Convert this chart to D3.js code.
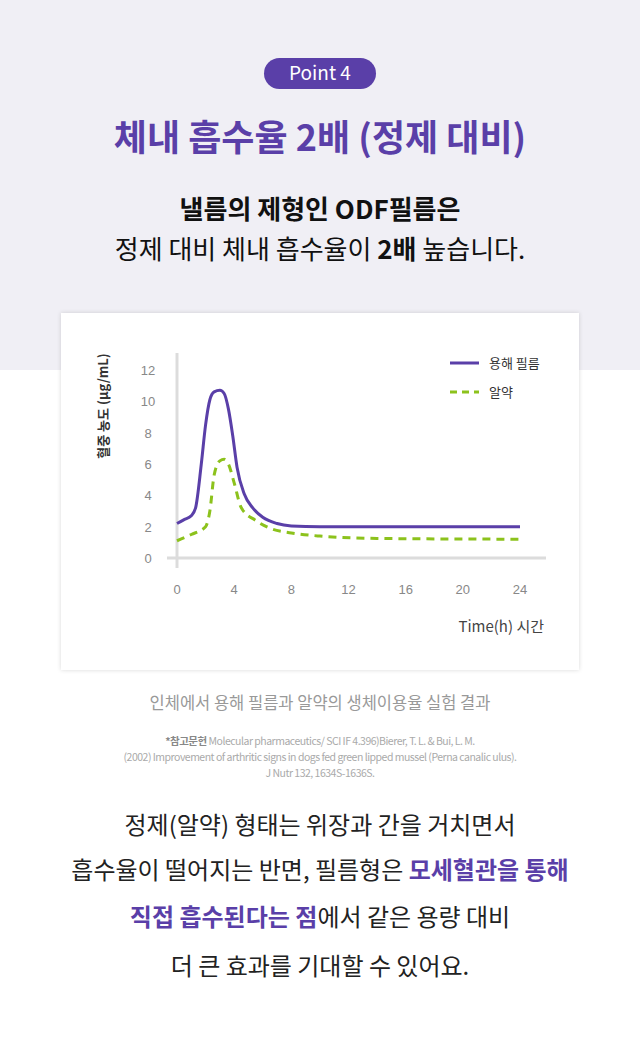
<!DOCTYPE html><html><head><meta charset="utf-8">
<script src="https://cdn.jsdelivr.net/npm/d3@7"></script>
<style>body{margin:0;background:#fff}svg{display:block}</style></head><body>
<svg id="c" width="640" height="1053"></svg>
<script>
const xTicks=[0,4,8,12,16,20,24];
const yTicks=[0,2,4,6,8,10,12];
const filmT=[0,0.5,1,1.3,1.7,2,2.3,2.6,3,3.3,3.6,3.9,4.2,4.7,5.3,6,7,8,10,24];
const filmV=[2.2,2.45,2.7,3.2,6,8.5,10.1,10.6,10.7,10.5,9.5,7.8,5.8,4.1,3.2,2.6,2.2,2.05,2,2];
const pillT=[0,1,2,2.3,2.6,3,3.3,3.6,4,4.5,5.5,6.5,8,10,14,24];
const pillV=[1.1,1.5,2,3,5.3,6.2,6.3,6,4.8,3.2,2.4,1.9,1.6,1.4,1.25,1.2];
const seriesNames=["용해 필름","알약"];
const svg=d3.select("#c");
const F="'Noto Sans CJK KR','Noto Sans',sans-serif";
svg.append("rect").attr("width",640).attr("height",370).attr("fill","#f0eff5");
const defs=svg.append("defs");
const fl=defs.append("filter").attr("id","sh").attr("x","-5%").attr("y","-5%").attr("width","110%").attr("height","110%");
fl.append("feDropShadow").attr("dx",0).attr("dy",0).attr("stdDeviation",2).attr("flood-color","#000").attr("flood-opacity",0.15);
svg.append("rect").attr("x",61).attr("y",313).attr("width",518).attr("height",357).attr("fill","#fff").attr("filter","url(#sh)");
svg.append("rect").attr("x",264).attr("y",58).attr("width",112).attr("height",31).attr("rx",15.5).attr("fill","#5a3fa8");
svg.append("text").attr("x",320).attr("y",80).attr("text-anchor","middle").attr("fill","#fff").attr("font-family",F).attr("font-size",19).text("Point 4");
svg.append("text").attr("x",320).attr("y",151).attr("text-anchor","middle").attr("fill","#5a3fa8").attr("font-family",F).attr("font-weight",700).attr("font-size",36).text("체내 흡수율 2배 (정제 대비)");
svg.append("text").attr("x",320).attr("y",219).attr("text-anchor","middle").attr("fill","#111").attr("font-family",F).attr("font-size",26).attr("font-weight",700).text("낼름의 제형인 ODF필름은");
const t2=svg.append("text").attr("x",320).attr("y",259).attr("text-anchor","middle").attr("fill","#111").attr("font-family",F).attr("font-size",26);
t2.append("tspan").text("정제 대비 체내 흡수율이 ");t2.append("tspan").attr("font-weight",700).text("2배");t2.append("tspan").text(" 높습니다.");
const x=d3.scaleLinear().domain([0,24]).range([177,520]);
const y=d3.scaleLinear().domain([0,12]).range([558,370]);
const g=svg.append("g");
g.append("line").attr("x1",167).attr("x2",546).attr("y1",558).attr("y2",558).attr("stroke","#dcdcdc").attr("stroke-width",3);
g.append("line").attr("x1",177).attr("x2",177).attr("y1",353).attr("y2",568).attr("stroke","#dcdcdc").attr("stroke-width",3);
g.selectAll(".yt").data(yTicks).join("text").attr("x",148).attr("y",d=>y(d)+5).attr("text-anchor","middle").attr("fill","#888").attr("font-family","'Liberation Sans',Arial,sans-serif").attr("font-size",13).text(d=>d);
g.selectAll(".xt").data(xTicks).join("text").attr("x",d=>x(d)).attr("y",594).attr("text-anchor","middle").attr("fill","#888").attr("font-family","'Liberation Sans',Arial,sans-serif").attr("font-size",13).text(d=>d);
g.append("text").attr("transform","translate(108,406) rotate(-90)").attr("text-anchor","middle").attr("fill","#333").attr("font-family",F).attr("font-weight",700).attr("font-size",13).text("혈중 농도 (μg/mL)");
g.append("text").attr("x",544).attr("y",632).attr("text-anchor","end").attr("fill","#444").attr("font-family",F).attr("font-size",15).text("Time(h) 시간");
const line=d3.line().x(d=>x(d[0])).y(d=>y(d[1])).curve(d3.curveMonotoneX);
g.append("path").attr("d",line(filmT.map((t,i)=>[t,filmV[i]]))).attr("fill","none").attr("stroke","#5a3fa8").attr("stroke-width",3);
g.append("path").attr("d",line(pillT.map((t,i)=>[t,pillV[i]]))).attr("fill","none").attr("stroke","#8cc21c").attr("stroke-width",3).attr("stroke-dasharray","8,6");
g.append("line").attr("x1",450).attr("x2",479).attr("y1",363).attr("y2",363).attr("stroke","#5a3fa8").attr("stroke-width",3);
g.append("line").attr("x1",450).attr("x2",479).attr("y1",392).attr("y2",392).attr("stroke","#8cc21c").attr("stroke-width",3).attr("stroke-dasharray","7,5");
g.append("text").attr("x",489).attr("y",368).attr("fill","#333").attr("font-family",F).attr("font-size",13).text(seriesNames[0]);
g.append("text").attr("x",489).attr("y",397).attr("fill","#333").attr("font-family",F).attr("font-size",13).text(seriesNames[1]);
svg.append("text").attr("x",320).attr("y",709).attr("text-anchor","middle").attr("fill","#999").attr("font-family",F).attr("font-size",16.5).text("인체에서 용해 필름과 알약의 생체이용율 실험 결과");
const r=svg.append("text").attr("x",320).attr("y",745).attr("text-anchor","middle").attr("fill","#aaa").attr("font-family",F).attr("font-size",10.5).attr("letter-spacing",-0.5);
r.append("tspan").attr("font-weight",700).attr("fill","#888").text("*참고문헌 ");r.append("tspan").text("Molecular pharmaceutics/ SCI IF 4.396)Bierer, T. L. & Bui, L. M.");
svg.append("text").attr("x",320).attr("y",761).attr("text-anchor","middle").attr("fill","#aaa").attr("font-family",F).attr("font-size",10.5).attr("letter-spacing",-0.5).text("(2002) Improvement of arthritic signs in dogs fed green lipped mussel (Perna canalic ulus).");
svg.append("text").attr("x",320).attr("y",777).attr("text-anchor","middle").attr("fill","#aaa").attr("font-family",F).attr("font-size",10.5).attr("letter-spacing",-0.5).text("J Nutr 132, 1634S-1636S.");
const body=[[["정제(알약) 형태는 위장과 간을 거치면서",0]],[["흡수율이 떨어지는 반면, 필름형은 ",0],["모세혈관을 통해",1]],[["직접 흡수된다는 점",1],["에서 같은 용량 대비",0]],[["더 큰 효과를 기대할 수 있어요.",0]]];
const by=[834,879,926,975];
body.forEach((ln,i)=>{const t=svg.append("text").attr("x",320).attr("y",by[i]).attr("text-anchor","middle").attr("font-family",F).attr("font-size",24).attr("fill","#222");
ln.forEach(s=>t.append("tspan").attr("fill",s[1]?"#5a3fa8":"#222").attr("font-weight",s[1]?700:400).text(s[0]));});
</script></body></html>
